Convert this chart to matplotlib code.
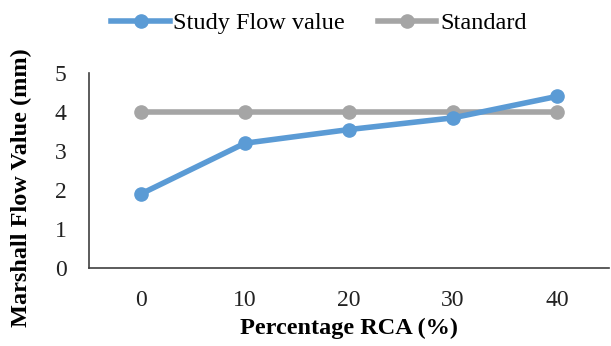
import matplotlib
matplotlib.use("Agg")
import matplotlib.pyplot as plt

plt.rcParams['font.family'] = ['Liberation Serif', 'DejaVu Serif']

categories = ["0", "10", "20", "30", "40"]
study_flow = [1.9, 3.2, 3.55, 3.85, 4.4]
standard = [4, 4, 4, 4, 4]
y_ticks = [0, 1, 2, 3, 4, 5]

blue = "#5B9BD5"
gray = "#A5A5A5"

fig = plt.figure(figsize=(6.11, 3.46), dpi=100)
ax = fig.add_axes([89 / 611, 1 - 268 / 346, 520 / 611, 195 / 346])

x = list(range(len(categories)))
ax.plot(x, study_flow, color=blue, lw=4, marker="o", ms=9.5, label="Study Flow value", zorder=3)
ax.plot(x, standard, color=gray, lw=4, marker="o", ms=9.5, label="Standard", zorder=2)

ax.set_xlim(-0.5, len(categories) - 0.5)
ax.set_ylim(0, 5)
ax.set_xticks(x)
ax.set_xticklabels(categories)
ax.set_yticks(y_ticks)
ax.tick_params(axis="both", length=0, labelsize=17, colors="#222222")
ax.tick_params(axis="x", pad=16)
ax.tick_params(axis="y", pad=16)

for s in ["top", "right"]:
    ax.spines[s].set_visible(False)
for s in ["left", "bottom"]:
    ax.spines[s].set_color("#404040")
    ax.spines[s].set_linewidth(1.2)

ax.set_xlabel("Percentage RCA (%)", fontsize=17.5, fontweight="bold", labelpad=5)
ax.set_ylabel("Marshall Flow Value (mm)", fontsize=17.5, fontweight="bold")
ax.yaxis.set_label_coords(-0.11, 0.41)

fig.legend(loc="center", bbox_to_anchor=(319 / 611, 1 - 23 / 346), ncol=2, frameon=False,
           fontsize=17.5, handlelength=2.4, handletextpad=0.15, columnspacing=1.35,
           markerscale=1.0, borderpad=0)

fig.savefig("out.png", dpi=100)
